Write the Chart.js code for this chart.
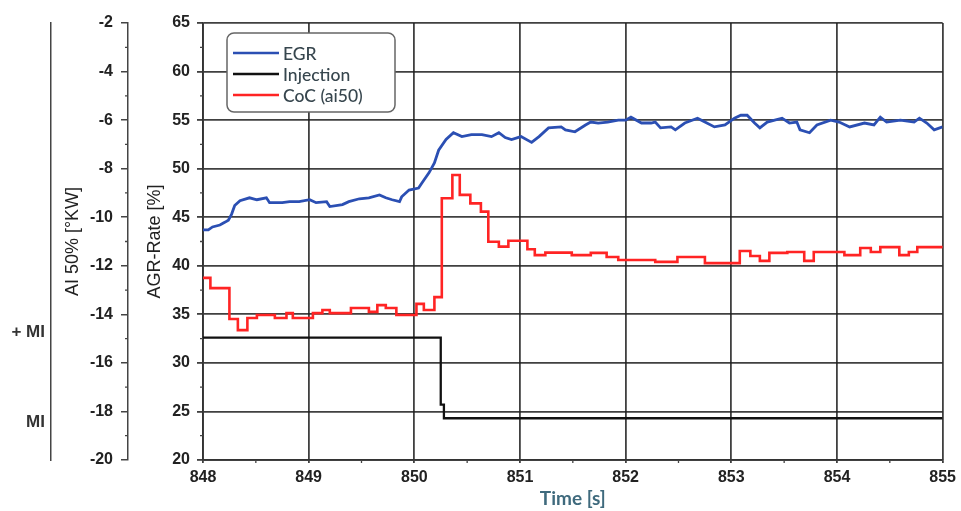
<!DOCTYPE html>
<html>
<head>
<meta charset="utf-8">
<title>AGR-Rate / AI 50%</title>
<script src="https://cdn.jsdelivr.net/npm/chart.js@4.4.1/dist/chart.umd.min.js"></script>
<style>
  html, body { margin: 0; padding: 0; background: #fff; }
  #wrap { width: 961px; height: 511px; position: relative; }
</style>
</head>
<body>
<div id="wrap"><canvas id="grafico"></canvas></div>
<script>
// EGR (AGR-Rate [%]) - blue line
const egrTime = [848.00, 848.05, 848.09, 848.16, 848.21, 848.24, 848.27, 848.30, 848.35, 848.44,
                 848.51, 848.60, 848.63, 848.75, 848.82, 848.91, 849.01, 849.07, 849.17, 849.20,
                 849.32, 849.38, 849.48, 849.57, 849.67, 849.73, 849.79, 849.86, 849.88, 849.95,
                 850.04, 850.07, 850.14, 850.19, 850.23, 850.30, 850.37, 850.45, 850.54, 850.64,
                 850.73, 850.80, 850.86, 850.92, 851.01, 851.11, 851.18, 851.27, 851.39, 851.43,
                 851.52, 851.62, 851.67, 851.74, 851.83, 851.93, 852.00, 852.05, 852.15, 852.24,
                 852.28, 852.33, 852.43, 852.47, 852.56, 852.68, 852.75, 852.84, 852.94, 853.03,
                 853.09, 853.15, 853.22, 853.27, 853.34, 853.48, 853.55, 853.62, 853.65, 853.74,
                 853.81, 853.94, 854.02, 854.12, 854.26, 854.35, 854.41, 854.47, 854.60, 854.73,
                 854.78, 854.85, 854.92, 855.00];
const egrRate = [43.7, 43.7, 44.0, 44.2, 44.5, 44.7, 45.3, 46.2, 46.7, 47.0,
                 46.8, 47.0, 46.5, 46.5, 46.6, 46.6, 46.8, 46.5, 46.6, 46.1,
                 46.3, 46.6, 46.9, 47.0, 47.3, 47.0, 46.8, 46.6, 47.1, 47.8,
                 48.0, 48.5, 49.6, 50.6, 51.9, 53.0, 53.7, 53.3, 53.5, 53.5,
                 53.3, 53.7, 53.2, 53.0, 53.3, 52.7, 53.3, 54.2, 54.3, 54.0,
                 53.8, 54.5, 54.8, 54.7, 54.8, 55.0, 55.0, 55.3, 54.7, 54.7,
                 54.8, 54.2, 54.3, 54.0, 54.7, 55.2, 54.8, 54.3, 54.5, 55.2,
                 55.5, 55.5, 54.7, 54.2, 54.8, 55.2, 54.7, 54.8, 54.0, 53.7,
                 54.5, 55.0, 54.8, 54.3, 54.7, 54.5, 55.3, 54.8, 55.0, 54.8,
                 55.2, 54.7, 54.0, 54.3];

// Injection (+MI / MI) - black step line
const injTime = [848.00, 850.25, 850.28, 855.00];
const injLevel = [32.6, 25.7, 24.3, 24.3];

// CoC (ai50) [°KW] - red step line
const cocTime = [848.00, 848.07, 848.25, 848.33, 848.42, 848.51, 848.68, 848.79, 848.85, 849.04,
                 849.13, 849.20, 849.40, 849.57, 849.65, 849.73, 849.83, 850.02, 850.09, 850.19,
                 850.26, 850.36, 850.43, 850.53, 850.63, 850.70, 850.80, 850.89, 851.07, 851.14,
                 851.24, 851.49, 851.67, 851.82, 851.93, 852.28, 852.49, 852.75, 853.08, 853.18,
                 853.27, 853.36, 853.53, 853.69, 853.78, 854.07, 854.22, 854.32, 854.41, 854.59,
                 854.68, 854.76, 855.00];
const cocAi50 = [-12.50, -12.92, -14.19, -14.65, -14.15, -14.03, -14.15, -13.95, -14.15, -13.95,
                 -13.82, -13.95, -13.74, -13.90, -13.62, -13.74, -14.03, -13.57, -13.82, -13.29,
                 -9.22, -8.26, -9.08, -9.43, -9.77, -11.01, -11.21, -10.97, -11.32, -11.56,
                 -11.46, -11.56, -11.47, -11.64, -11.76, -11.84, -11.64, -11.89, -11.39, -11.60,
                 -11.80, -11.47, -11.43, -11.80, -11.43, -11.56, -11.27, -11.43, -11.23, -11.56,
                 -11.43, -11.23, -11.27];

// marcas del eje exterior
const miLevels = [33.1, 23.9];
const miLabels = ['+ MI', 'MI'];

const toPoints = (xs, ys) => xs.map((x, i) => ({ x: x, y: ys[i] }));

const tickFont = { family: 'Liberation Sans, Arial, sans-serif', size: 16, weight: 'bold' };
const gridColor = 'rgba(30, 30, 30, 0.85)';

// pequeñas marcas intermedias de los ejes
const minorTicks = {
    id: 'minorTicks',
    afterDraw(chart) {
        const { ctx, scales } = chart;
        ctx.save();
        ctx.strokeStyle = '#444';
        ctx.lineWidth = 1.3;
        ctx.beginPath();
        for (let v = -19; v <= -3; v += 2) {
            const py = scales.yAI.getPixelForValue(v);
            ctx.moveTo(scales.yAI.right - 3, py); ctx.lineTo(scales.yAI.right, py);
        }
        for (let v = 22.5; v < 65; v += 5) {
            const py = scales.y.getPixelForValue(v);
            ctx.moveTo(scales.y.right - 3, py); ctx.lineTo(scales.y.right, py);
        }
        for (let v = 848.5; v < 855; v += 1) {
            const px = scales.x.getPixelForValue(v);
            ctx.moveTo(px, scales.x.top); ctx.lineTo(px, scales.x.top + 3);
        }
        ctx.stroke();
        ctx.restore();
    }
};

// leyenda con caja redondeada dentro del área del gráfico
const legendBox = {
    id: 'legendBox',
    afterDatasetsDraw(chart) {
        const { ctx, chartArea } = chart;
        const x0 = chartArea.left + 24, y0 = chartArea.top + 10;
        ctx.save();
        ctx.beginPath();
        ctx.roundRect(x0, y0, 168, 79, 7);
        ctx.fillStyle = '#fff';
        ctx.fill();
        ctx.lineWidth = 1.5;
        ctx.strokeStyle = '#666';
        ctx.stroke();
        ctx.font = '500 17.5px Lato, "Noto Sans", sans-serif';
        ctx.textAlign = 'left';
        ctx.textBaseline = 'middle';
        chart.data.datasets.forEach((ds, i) => {
            const y = y0 + 20 + i * 21;
            ctx.strokeStyle = ds.borderColor;
            ctx.lineWidth = 2.5;
            ctx.beginPath();
            ctx.moveTo(x0 + 6, y);
            ctx.lineTo(x0 + 52, y);
            ctx.stroke();
            ctx.fillStyle = '#37464e';
            ctx.fillText(ds.label, x0 + 56, y + 1);
        });
        ctx.restore();
    }
};

new Chart(document.getElementById('grafico'), {
    type: 'line',
    data: {
        datasets: [
            {
                label: 'EGR',
                data: toPoints(egrTime, egrRate),
                yAxisID: 'y',
                borderColor: '#2b4fb3',
                borderWidth: 2.8,
                pointRadius: 0,
                tension: 0
            },
            {
                label: 'Injection',
                data: toPoints(injTime, injLevel),
                yAxisID: 'yMI',
                borderColor: '#111111',
                borderWidth: 2.3,
                pointRadius: 0,
                stepped: true
            },
            {
                label: 'CoC (ai50)',
                data: toPoints(cocTime, cocAi50),
                yAxisID: 'yAI',
                borderColor: '#ff2424',
                borderWidth: 2.6,
                pointRadius: 0,
                stepped: true
            }
        ]
    },
    options: {
        responsive: true,
        maintainAspectRatio: false,
        animation: false,
        layout: { padding: { top: 23, right: 15, bottom: 0, left: 0 } },
        plugins: {
            legend: { display: false },
            tooltip: { enabled: false }
        },
        scales: {
            x: {
                type: 'linear',
                min: 848,
                max: 855,
                ticks: { stepSize: 1, font: tickFont, color: '#222', padding: 5 },
                grid: { color: gridColor, lineWidth: 1.8, tickLength: 3 },
                border: { color: '#333', width: 1.8 },
                title: {
                    display: true,
                    text: 'Time [s]',
                    color: '#3f6a7d',
                    font: { family: 'Lato, "Noto Sans", sans-serif', size: 19, weight: 'bold' },
                    padding: { top: 0, bottom: 1 }
                },
                afterFit: (s) => { s.height = 51; }
            },
            yMI: {
                type: 'linear',
                position: 'left',
                weight: 2,
                min: 20,
                max: 65,
                afterBuildTicks: (s) => { s.ticks = miLevels.map(v => ({ value: v })); },
                ticks: {
                    font: { family: 'Liberation Sans, Arial, sans-serif', size: 17, weight: 'bold' },
                    color: '#333',
                    padding: 6,
                    callback: (v) => miLabels[miLevels.indexOf(v)]
                },
                grid: { drawOnChartArea: false, drawTicks: false },
                border: { color: '#444', width: 1.5 },
                afterFit: (s) => { s.width = 51; }
            },
            yAI: {
                type: 'linear',
                position: 'left',
                weight: 1,
                min: -20,
                max: -2,
                ticks: { stepSize: 2, font: tickFont, color: '#222', padding: 8 },
                grid: { drawOnChartArea: false, color: '#444', lineWidth: 1.5, tickLength: 7 },
                border: { color: '#444', width: 1.5 },
                title: {
                    display: true,
                    text: 'AI 50% [°KW]',
                    color: '#222',
                    font: { family: 'Liberation Sans, Arial, sans-serif', size: 18 },
                    padding: { top: 11, bottom: 0 }
                },
                afterFit: (s) => { s.width = 77; }
            },
            y: {
                type: 'linear',
                position: 'left',
                weight: 0,
                min: 20,
                max: 65,
                ticks: { stepSize: 5, font: tickFont, color: '#222', padding: 7 },
                grid: { color: gridColor, lineWidth: 1.8, tickLength: 6 },
                border: { color: '#333', width: 1.8 },
                title: {
                    display: true,
                    text: 'AGR-Rate [%]',
                    color: '#222',
                    font: { family: 'Liberation Sans, Arial, sans-serif', size: 18 },
                    padding: { top: 16, bottom: 0 }
                },
                afterFit: (s) => { s.width = 75; }
            }
        }
    },
    plugins: [minorTicks, legendBox]
});
</script>
</body>
</html>
